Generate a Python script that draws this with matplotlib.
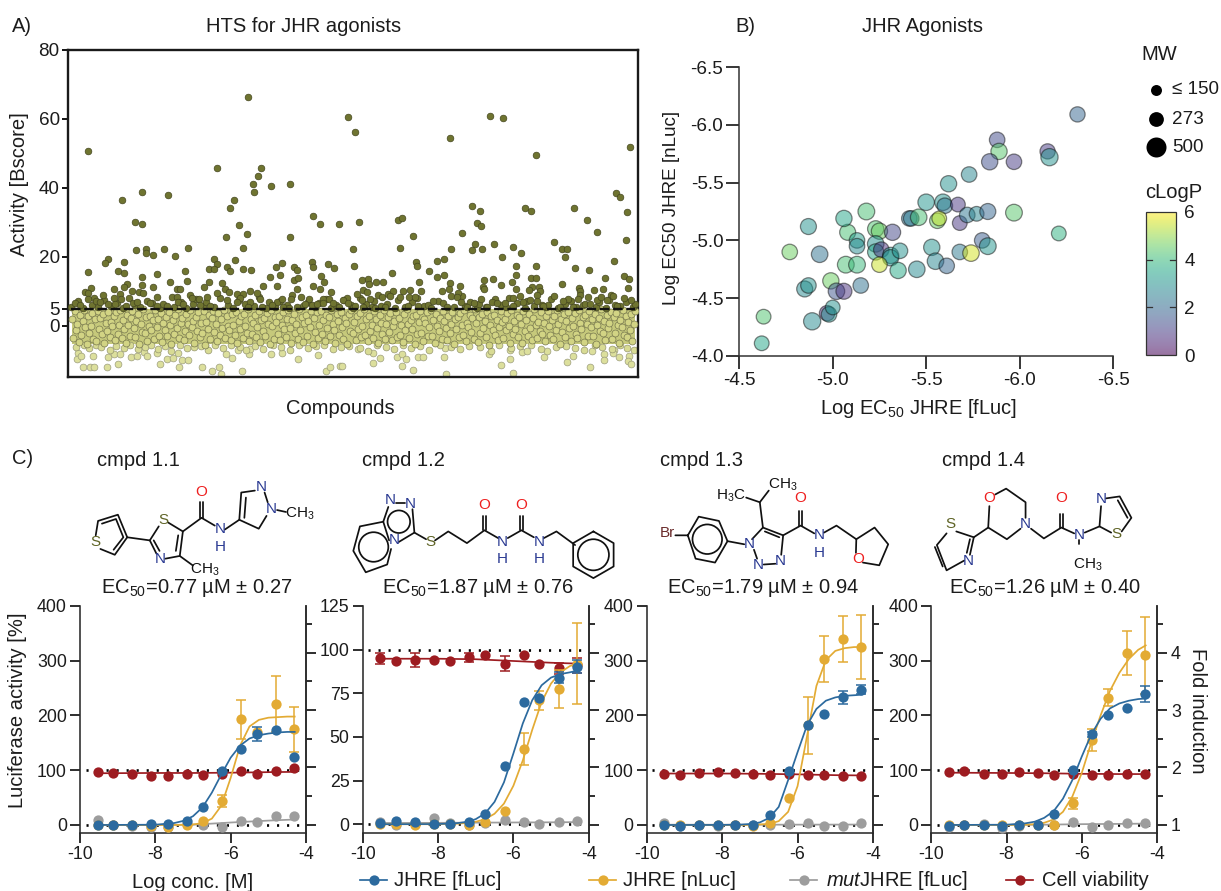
import numpy as np
import matplotlib
matplotlib.use("Agg")
import matplotlib.pyplot as plt
from matplotlib.cm import ScalarMappable
from matplotlib.colors import Normalize
from matplotlib.patches import Circle

plt.rcParams['font.family'] = ['Liberation Sans', 'DejaVu Sans']
plt.rcParams['mathtext.fontset'] = 'custom'
plt.rcParams['mathtext.rm'] = 'Liberation Sans'
plt.rcParams['mathtext.it'] = 'Liberation Sans:italic'
plt.rcParams['mathtext.default'] = 'regular'
plt.rcParams['axes.unicode_minus'] = False

# ---------- Panel A data (compound rank, Bscore) ----------
hit_x = [20,180,280,287,382,422,435,468,562,149,193,190,185,203,222,186,74,100,54,166,67,74,162,171,179,158,175,167,222,245,252,271,
 68,78,78,85,96,107,120,40,37,56,20,50,56,89,117,146,149,141,146,159,162,175,183,244,245,260,266,214,208,226,229,212,202,253,256,226,230,195,209,245,252,263,229,224,223,182,189,
 74,102,119,141,154,136,85,74,59,56,46,23,17,20,20,35,46,52,53,64,71,75,89,109,112,109,122,124,131,139,149,157,161,169,175,172,159,182,192,209,214,241,255,261,
 7,12,28,32,40,47,58,65,69,82,89,99,110,115,132,142,169,180,194,204,215,229,237,244,249,255,265,
 294,300,301,308,315,295,299,289,294,302,310,314,320,325,322,332,335,342,341,347,351,353,365,374,382,381,392,390,383,389,393,416,415,416,425,433,444,448,448,452,445,463,468,464,461,471,472,469,469,486,494,537,556,561,560,511,512,512,510,526,535,543,545,556,563,529,533,539,500,495,413,406,424,429,437,462,455,480,475,517,522,279,275,280,287,295,307,317,340,350,379,399,419,445,492,505,549]
hit_y = [50.7,66.4,60.6,56.2,54.5,60.9,60.3,49.6,51.9,45.8,45.8,43.5,41.2,40.6,41.2,38.8,38.8,38.0,36.5,36.5,30.2,29.7,34.3,29.2,26.6,25.9,22.7,19.1,25.7,31.9,29.6,29.6,
 22,22.3,21.2,20.6,22.3,20.3,22.7,19.5,18.2,18.6,15.7,16,15.4,15.2,16,19.5,18,16.5,16.5,17.2,16,16.5,16.2,18.6,17.1,18,16.9,18.3,17.1,17.1,16.2,14.9,14.2,14.5,12.8,13.3,13.9,11.6,11.6,11.6,10.6,9.8,10.8,9.1,7.8,10,9.6,
 14.2,12.6,13.1,12.8,12.4,11.3,11.4,11.9,12.2,11.4,10.8,11,9.9,9.6,7.9,9,8.2,9.2,7.9,10.1,9.9,9.5,8.5,10.6,10.6,8.5,9.1,8.2,7.9,8.5,9.5,10.6,9.8,9.3,9.3,8,7.5,7,7.7,7,7.7,7.9,7.7,7.7,
 6.6,6.1,7.3,6.8,6.4,6.4,5.8,6.6,6.8,6.6,5.8,5.8,6.8,6.4,6.1,5.8,7,5.6,5.6,6.1,5.5,5.5,6.4,6.1,6.4,6.7,6.7,
 13.3,13.7,12.2,12.6,12.6,10.4,9.7,9.2,7.5,7.9,9,8.3,9.2,10.2,8.7,8.5,10.2,10.4,8.5,8.4,12.8,10,7.2,10,12.4,10.8,11.5,9.5,8.8,8.5,7,13.3,11.2,10.6,13.6,12,12.7,14.7,10.6,8.8,8.1,14,14,11.4,10.4,11.2,10.1,9,7.3,8.7,12.3,13.9,14.5,13.6,11,11.1,10,9,7.8,10.3,10.7,9,8.8,8.1,7.6,7.6,8.5,7.4,7.9,7.3,7.7,6.6,7,6.6,6.6,7.6,7,6.1,5.7,6.4,6.4,8,7.6,6.6,5.8,5.5,5.2,5.5,5.8,5.8,5.6,5.6,5.5,5.8,5.5,5.6,5.8]

hit2_x = [404,412,457,463,506,519,529,558,486,494,499,497,546,507,521,409,413,394,407,404,414,426,445,453,434,448,468,383,376,369,361,376,369,348,349,345,332,330,334,291,285,286,324,548,552,559]
hit2_y = [34.8,33.3,34.2,33.3,34.3,30.7,27.2,24.9,24.4,22.3,22.3,20,18.8,16.8,16.3,29.9,29,27,23.8,22,22.3,23.7,22.9,21.2,20,17.4,17.5,22.4,19.5,18.8,16,14.8,14.2,18.6,17.5,26.1,22.7,30.8,31.4,30.2,22.3,17.4,15.4,38.6,37.4,33]

row_x = [3,10,15,24,26,30,36,43,49,55,61,67,72,79,84,92,95,104,106,113,118,125,128,135,138,146,152,160,165,171,177,186,191,198,201,207,212,219,221,233,235,240,247,251,258,263,268,271,276,283,285,292,298,304,306,313,319,327,330,337,344,349,356,360,363,370,375,386,394,397,402,409,411,418,427,433,438,441,449,457,459,466,474,478,483,490,497,503,508,515,520,528,531,538,541,547,552,558,565,567]
row_y = [5.6,7.1,5.3,6.2,8.2,5.5,7.4,5.9,6.6,5.2,8,6.1,5.4,7.2,6.7,5.3,6.4,8.3,5.6,7,5.2,6.3,7.7,5.8,6.9,5.4,8.1,6,5.3,7.5,6.5,5.7,8.4,5.2,6.8,5.5,7.3,6.1,5.3,8.5,5.9,7,5.4,6.6,7.8,5.2,6.2,5.6,7.4,6,5.3,8,6.5,5.5,7.1,5.8,6.3,5.2,7.6,5.4,6.9,8.2,5.7,6.1,5.3,7.2,6.6,5.5,8.6,5.9,7,5.2,6.4,5.6,7.7,6,5.4,8.1,6.7,5.3,7.3,5.8,6.2,5.5,7.9,5.2,6.5,7.1,5.6,6,8.3,5.4,6.8,5.3,7.5,6.1,5.7,7,5.5,6.4]

low_x = [10,9,13,15,22,26,39,50,25,40,46,52,63,69,76,79,89,92,99,105,110,114,120,111,134,144,151,153,174,158,164,181,170,182,203,214,230,250,258,262,272,274,305,312,329,334,338,334,345,350,355,376,378,377,421,433,442,445,476,499,505,522,536,536,546,551,561,560,563,524,545,442,454,459,479,305,290]
low_y = [-7.7,-9.6,-8.7,-12,-12,-12,-12,-11,-8.7,-8.9,-8.1,-8.1,-9.1,-8.7,-7.5,-8.7,-7.7,-11,-9.6,-9.3,-7.9,-9.9,-9.9,-12,-12,-13,-12,-13.9,-13,-8.1,-9.3,-8.1,-6.9,-6.7,-8.1,-7.9,-9.6,-8.4,-13,-12,-11.5,-11.5,-10.7,-9.2,-9.1,-8.2,-9.6,-11.5,-12.7,-8.9,-9.1,-8.9,-14,-6.5,-8,-11.3,-9.7,-13.5,-9.1,-10.5,-8.6,-11.9,-8.2,-9.8,-7,-8.9,-8.7,-10.3,-10.9,-7.4,-7.9,-7,-7.5,-7.2,-7.4,-7.7,-6.8]

fringe_x = [8,16,21,28,33,42,48,56,62,70,77,83,90,97,103,112,119,126,133,140,147,155,163,172,178,187,195,205,213,222,231,240,248,256,265,273,281,292,300,309,318,326,335,343,352,361,372,383,392,401,412,423,431,443,452,463,473,488,498,507,516,527,534,544,552,559,566]
fringe_y = [-6,-5.6,-6.5,-5.5,-6.2,-7,-5.7,-6.4,-5.5,-6.8,-6,-5.6,-6.6,-5.8,-7.2,-5.5,-6.3,-6,-5.7,-6.9,-5.6,-6.4,-5.5,-6.1,-7.1,-5.8,-6.6,-5.6,-6.2,-7,-5.5,-6.5,-5.9,-5.6,-6.8,-6.1,-5.7,-6.3,-7.2,-5.5,-6,-6.7,-5.6,-6.4,-5.8,-7,-5.5,-6.2,-6.6,-5.7,-6.1,-7.3,-5.6,-6.5,-5.9,-5.5,-6.8,-6.2,-5.7,-6.4,-7,-5.6,-6,-6.7,-5.5,-6.3,-6.9]

band_y = [2.1,-3.4,4.2,-1.2,0.6,-4.7,3.1,-2.6,1.4,4.6,-0.3,-5.2,2.8,-1.9,0.1,3.7,-3.9,1.9,-4.4,4.4,
 -0.8,2.4,-2.2,3.4,-5.0,0.9,-1.5,4.1,-3.1,1.1,-0.1,2.9,-4.1,3.9,-2.4,0.4,4.7,-3.6,1.7,-1.0,
 -4.9,3.3,0.2,-2.8,2.2,4.3,-0.6,-3.3,1.3,3.6,-5.3,0.7,-1.7,4.8,-2.1,2.6,-4.3,0.0,3.0,-1.3,
 1.6,-3.7,4.5,-0.4,2.0,-2.9,3.8,-4.6,1.0,-1.1,2.7,-3.0,4.0,0.3,-5.1,1.8,-2.3,3.2,-0.7,4.9,
 -3.5,0.8,2.3,-4.2,-1.6,3.5,0.5,-2.7,4.6,-0.2,1.5,-4.8,2.5,-1.4,3.9,-3.2,0.9,-2.0,4.2,-5.4,
 1.2,-0.9,3.1,-3.8,2.2,4.4,-1.8,0.6,-4.5,3.7,-2.5,1.9,-0.5,4.7,-3.4,2.8,0.1,-1.2,-4.0,3.4,
 0.4,-2.6,4.1,-5.0,1.4,-0.8,2.9,-3.6,3.6,0.0,-1.9,4.8,-4.4,2.1,-2.2,1.0,3.3,-3.1,-0.3,4.3,
 -4.7,1.7,-1.5,2.4,-2.8,3.8,0.7,-5.2,4.5,-0.1,-3.9,2.6,1.1,-2.4,3.0,-4.1,0.2,4.0,-1.0,-3.3,
 2.0,4.6,-0.6,-4.9,1.6,3.5,-2.1,0.5,-3.7,4.9,-1.3,2.7,-4.6,0.8,3.2,-2.9,1.3,-0.4,4.2,-5.1,
 2.3,-1.7,3.9,-3.5,0.3,4.4,-2.3,1.8,-4.3,3.1,-0.7,2.5,-3.0,4.7,0.6,-1.1,-4.8,3.6,1.5,-2.7,
 4.1,-0.2,-3.8,2.2,0.9,-5.3,3.4,-1.6,4.5,-2.0,1.2,-4.2,2.8,-0.9,3.7,-3.2,0.1,4.8,-2.5,1.9,
 -4.5,3.0,-1.4,0.4,-3.4,4.3,2.1,-0.5,-5.0,3.3,1.0,-2.2,4.6,-3.9,0.7,2.6,-1.8,3.8,-4.0,-0.1,
 1.4,4.0,-3.1,2.4,-2.6,0.2,-4.7,3.5,-1.2,4.9,0.5,-3.6,1.7,-0.8,2.9,-5.2,3.2,-2.4,1.1,4.2,
 -1.9,-4.4,2.0,0.8,3.9,-3.0,-0.3,4.7,-2.8,1.6,-4.9,3.4,0.0,-1.5,2.3,-3.7,4.4,1.3,-0.6,-4.1,
 3.0,-2.1,0.6,4.1,-5.1,1.9,-1.0,2.7,-3.3,3.7,0.3,-2.5,4.5,-4.3,1.0,-0.4,3.3,-1.7,2.2,-3.8,
 4.8,0.9,-4.6,2.5,-2.0,3.6,-0.7,1.5,-3.2,4.0,-5.4,0.4,2.8,-1.3,3.1,-2.7,1.8,-4.0,-0.2,4.3,
 1.1,-3.5,2.1,-1.1,3.8,0.1,-4.8,4.6,-2.3,1.4,-0.9,3.2,-3.1,2.6,0.7,-5.0,4.2,-1.6,1.7,-2.9,
 3.5,-0.5,-4.2,2.4,4.9,0.2,-3.4,1.2,-1.4,3.9,-2.2,0.8,-4.5,2.9,4.4,-0.1,-2.6,1.6,-3.9,3.0,
 -1.2,4.7,0.5,-5.2,2.0,-1.8,3.4,-3.3,1.3,4.1,-0.7,-4.4,2.3,0.0,3.7,-2.4,-3.6,4.5,1.0,-1.0,
 2.7,-4.7,3.1,0.6,-2.8,4.3,-0.3,1.9,-3.0,3.6,-5.1,0.3,2.2,-1.5,4.8,-2.1,1.5,-4.1,3.3,-0.6,
 0.9,4.0,-3.7,2.5,-1.9,3.8,0.4,-4.9,1.7,-0.2,4.6,-2.5,2.8,-3.2,1.1,-1.1,3.5,-4.3,0.7,4.2]

# ---------- Panel B data ----------
b_fluc = [-4.62,-4.63,-4.89,-4.85,-4.87,-4.97,-4.98,-5.0,-4.99,-5.02,-5.06,-5.15,-4.77,-4.93,-5.07,-5.13,-4.87,-5.08,-5.06,-5.13,-5.13,-5.23,-5.25,-5.32,-5.18,-5.23,-5.23,-5.26,-5.31,-5.31,-5.36,-5.25,-5.35,-5.45,-5.53,-5.55,-5.61,-5.68,-5.74,-5.80,-5.83,-5.88,-5.89,-5.84,-5.97,-5.73,-5.62,-5.50,-5.59,-5.60,-5.67,-5.68,-5.72,-5.77,-5.83,-5.97,-5.41,-5.42,-5.46,-5.56,-5.57,-6.31,-6.15,-6.16,-6.21]
b_nluc = [-4.11,-4.34,-4.30,-4.58,-4.61,-4.37,-4.36,-4.42,-4.65,-4.56,-4.56,-4.61,-4.90,-4.88,-4.79,-4.79,-5.12,-5.07,-5.19,-5.0,-4.95,-5.10,-5.08,-5.07,-5.25,-4.97,-4.90,-4.92,-4.87,-4.85,-4.91,-4.79,-4.74,-4.75,-4.94,-4.82,-4.78,-4.90,-4.89,-5.0,-4.95,-5.87,-5.77,-5.68,-5.68,-5.57,-5.49,-5.33,-5.33,-5.30,-5.31,-5.15,-5.22,-5.23,-5.25,-5.24,-5.19,-5.19,-5.20,-5.17,-5.19,-6.09,-5.77,-5.72,-5.06]
b_clogp = [3.5,4.3,2.8,2.8,3.0,0.7,3.0,3.0,4.6,1.5,0.8,2.2,4.6,2.2,4.2,4.0,3.0,4.2,3.5,3.3,2.8,4.3,4.6,1.2,4.2,3.0,3.5,0.8,3.2,3.0,3.0,5.5,3.6,2.8,3.0,2.7,1.9,2.4,5.6,1.7,3.1,1.3,4.4,1.4,1.0,2.7,3.0,3.1,3.0,2.3,0.9,0.9,2.3,2.7,1.9,4.4,2.2,2.4,4.2,4.6,5.4,1.9,1.0,3.0,3.8]
b_mw = [270,270,370,320,300,300,300,270,330,340,320,300,300,340,350,350,320,320,330,300,300,330,330,330,350,340,330,300,330,330,300,300,330,340,330,340,300,300,340,300,350,300,330,330,300,300,330,340,340,300,270,270,300,270,320,350,300,300,340,300,270,290,290,370,270]
mw_keys = [150, 273, 500]

# ---------- Panel C data ----------
log_conc = [-9.53,-9.12,-8.61,-8.12,-7.67,-7.17,-6.74,-6.22,-5.73,-5.31,-4.80,-4.31]
fit_x = [-9.5,-8,-7.5,-7.25,-7,-6.75,-6.5,-6.25,-6,-5.75,-5.5,-5.25,-5,-4.75,-4.5,-4.3]
flat_x = [-9.5,-8,-7,-6,-5,-4.3]

titles = ["EC$_{50}$=0.77 µM ± 0.27","EC$_{50}$=1.87 µM ± 0.76","EC$_{50}$=1.79 µM ± 0.94","EC$_{50}$=1.26 µM ± 0.40"]
names = ["cmpd 1.1","cmpd 1.2","cmpd 1.3","cmpd 1.4"]

fluc1 = [0,0,-0.6,1.2,2.4,7.9,32.9,98.6,139,165.6,173.5,124.8]
nluc1 = [0,0,0,-2,-3.6,0.6,7.3,44.4,193,170,221,175]
mut1 = [9,-0.6,-2,-3,-3.6,1.2,0,-3,7.3,5.5,17,15.8]
via1 = [97.4,95,93,90,89,93,91,92.5,98,92.5,98.6,104.7]
fluc1_e = [0,0,0,0,0,0,0,0,0,13,0,0]
nluc1_e = [0,0,0,0,0,0,0,11,36,0,52,41]
via1_e = [0]*12
fit_f1 = [0,0.5,3.5,7.6,16,32,59,92,123,145,158,164,167,169,170,170]
fit_n1 = [0,0,0,0.3,1,3.4,11.6,35,86,145,180,192,196,197,198,198]
fit_m1 = [0,0,0.5,4.5,8,10]
fit_v1 = [94.5,95,95,95.5,96.5,97]

fluc2 = [0.6,1.7,1,0.4,0.4,1.5,5.7,33.4,69.8,72.1,84,90.3]
nluc2 = [0.4,0.4,-0.6,0.4,0,-0.4,1,7.8,43.1,71,77.5,92]
mut2 = [1,-0.6,0.6,3.4,0.6,-0.2,0.6,2.5,1.1,0,1.1,2.1]
via2 = [95,93.7,94.1,94.3,93.7,95.6,97.1,91.8,96.8,91.8,89.3,91]
fluc2_e = [0,0,0,0,0,0,0,0,0,0,3,3.8]
nluc2_e = [0,0,0,0,0,0,0,0,9,5.5,11,23]
via2_e = [3.3,0,4,0,0,2.5,0,4.3,0,0,3,4.5]
fit_f2 = [0,0.1,0.6,1.3,2.9,6.2,12.8,24,40.5,57.7,71,79.6,84,86,87,88]
fit_n2 = [0,0,0.3,0.7,1.4,2.9,6,11.8,22,36.5,54,70,80.6,87,90.6,92]
fit_m2 = [0.7,0.8,0.9,1,1.1,1.2]
fit_v2 = [94.8,94.8,94.5,93.5,92.5,92]

fluc3 = [0,-1,-0.6,-0.6,-0.6,0.6,19,97.7,182,203,233,247]
nluc3 = [0,0,0,0,0,-1,3.7,50,182,303,340,325]
mut3 = [3,-1,-0.6,-1,0,0,-0.6,1.8,3.7,-1,-1,3]
via3 = [94,91,94.7,96.5,94.7,92.8,91.6,93.4,91.6,90.4,89.8,89.8]
fluc3_e = [0,0,0,0,0,0,0,0,0,0,12.5,8]
nluc3_e = [0,0,0,0,0,0,0,0,52,42,42,58]
via3_e = [0]*12
fit_f3 = [0,0.1,0.7,1.8,4.7,13,33,82,133,182,212,227,233,236,237,238]
fit_n3 = [0,0,0,0.3,1,2,7,24,71,162,254,301,318,323,325,325]
fit_m3 = [0.5,0.5,0.5,0.6,0.7,0.8]
fit_v3 = [94,94,93.5,92.5,91,90.5]

fluc4 = [-1,0,-0.6,-1.8,0,0,20,100.8,165.5,200,213,239]
nluc4 = [0,0,0,0,0,0,0,40,154.5,232.7,314.5,310]
mut4 = [-3,0,2,-6,-1,0,0,5,-3,0.6,3,3]
via4 = [96.5,98.5,93,93,96,94.7,91.6,93,91.6,92,93,93.6]
fluc4_e = [0,0,0,0,0,0,0,0,5,0,0,14]
nluc4_e = [0,0,0,0,0,0,0,10,20,16,40,70]
via4_e = [0]*12
fit_f4 = [0,0.5,3,6,13,25,48,82,125,165,194,213,222,227,230,231]
fit_n4 = [0,0,0.5,1.5,4,10,24,52,95,150,200,245,278,303,320,328]
fit_m4 = [0,0.2,0.5,1.5,2,2.5]
fit_v4 = [95.5,95,94.5,93.5,93,93]

W, H = 1221, 891
fig = plt.figure(figsize=(W/100, H/100), dpi=100, facecolor='white')
def px_axes(l, t, r, b, **k):
    return fig.add_axes([l/W, 1-b/H, (r-l)/W, (b-t)/H], **k)

INK = '#1c1c1c'
FS = 14.5
TICK = 13.6

# ---------- A ----------
a = px_axes(68, 50, 638, 377)
a.set_xlim(0, 570); a.set_ylim(-14.8, 80)
for s in a.spines.values():
    s.set_linewidth(1.7); s.set_color('#1a1a1a')
a.set_xticks([])
a.set_yticks([0, 5, 20, 40, 60, 80])
a.tick_params(axis='y', length=4, width=1.3, labelsize=TICK, pad=2, labelcolor=INK)
band_x = np.linspace(4, 567, len(band_y))
a.axhspan(-5.2, 4.8, xmin=4/570, xmax=567/570, color='#c6c97b', lw=0, zorder=1)
a.scatter(low_x, low_y, s=24, c='#dcdf9c', edgecolors='#9c9d7c', linewidths=0.5, zorder=2)
a.scatter(fringe_x, fringe_y, s=24, c='#d8db94', edgecolors='#96976f', linewidths=0.5, zorder=2)
a.scatter(band_x, band_y, s=25, c='#d2d484', edgecolors='#77784e', linewidths=0.5, zorder=3)
a.scatter(row_x, row_y, s=23, c='#6f7430', edgecolors='#44461f', linewidths=0.5, zorder=4)
a.scatter(hit_x, hit_y, s=23, c='#6f7430', edgecolors='#44461f', linewidths=0.5, zorder=4)
a.scatter(hit2_x, hit2_y, s=23, c='#6f7430', edgecolors='#44461f', linewidths=0.5, zorder=4)
a.plot([3, 567], [5, 5], color='#111111', lw=1.7, ls=(0, (4, 1.6)), zorder=5)

# ---------- B ----------
b = px_axes(739.3, 67, 1113, 356)
b.set_xlim(-4.5, -6.5); b.set_ylim(-4.0, -6.5)
for k in ('top', 'right'):
    b.spines[k].set_visible(False)
for k in ('left', 'bottom'):
    b.spines[k].set_linewidth(1.1); b.spines[k].set_color('#333333')
b.set_xticks([-4.5, -5, -5.5, -6, -6.5]); b.set_yticks([-4, -4.5, -5, -5.5, -6, -6.5])
b.set_xticklabels(['-4.5', '-5.0', '-5.5', '-6.0', '-6.5'])
b.set_yticklabels(['-4.0', '-4.5', '-5.0', '-5.5', '-6.0', '-6.5'])
b.tick_params(length=9.5, width=1.1, labelsize=TICK, pad=2, labelcolor=INK)
norm = Normalize(0, 6)
b.scatter(b_fluc, b_nluc, s=np.array(b_mw)*0.415, c=b_clogp, cmap='viridis', norm=norm,
          alpha=0.5, edgecolors='#111111', linewidths=0.9, zorder=3, clip_on=False)
cax = px_axes(1146, 212, 1176, 355)
cb = fig.colorbar(ScalarMappable(norm=norm, cmap='viridis'), cax=cax, alpha=0.55)
cb.set_ticks([0, 2, 4, 6])
cb.outline.set_linewidth(0.9); cb.outline.set_edgecolor('#333333')
cax.tick_params(axis='y', length=0, labelsize=TICK, pad=6, labelcolor=INK)
for level in (2, 4):
    cax.plot([0, 0.2], [level, level], color='#333333', lw=0.9, zorder=6)
    cax.plot([0.8, 1], [level, level], color='#333333', lw=0.9, zorder=6)

# ---------- C ----------
C_POS = [(80, 306), (362.7, 588.7), (646.7, 873), (931.3, 1157)]
BLUE, YEL, GREY, RED = '#2c6a9e', '#e3ab34', '#9d9d9d', '#9d1c21'
panels = [
 (fluc1, nluc1, mut1, via1, fluc1_e, nluc1_e, via1_e, fit_f1, fit_n1, fit_m1, fit_v1),
 (fluc2, nluc2, mut2, via2, fluc2_e, nluc2_e, via2_e, fit_f2, fit_n2, fit_m2, fit_v2),
 (fluc3, nluc3, mut3, via3, fluc3_e, nluc3_e, via3_e, fit_f3, fit_n3, fit_m3, fit_v3),
 (fluc4, nluc4, mut4, via4, fluc4_e, nluc4_e, via4_e, fit_f4, fit_n4, fit_m4, fit_v4),
]
def series(ax, y, e, fx, fy, col, z):
    ax.plot(fx, fy, color=col, lw=1.25, zorder=z)
    xa, ya, ea = np.array(log_conc), np.array(y, float), np.array(e, float)
    m = ea > 0
    if m.any():
        ax.errorbar(xa[m], ya[m], yerr=ea[m], fmt='none', ecolor=col, elinewidth=1.1,
                    capsize=3.6, capthick=1.1, zorder=z)
    ax.plot(xa, ya, 'o', color=col, ms=7.4, mew=0, zorder=z+0.5, clip_on=False)

for i, ((l, r), p) in enumerate(zip(C_POS, panels)):
    ax = px_axes(l, 606, r, 833.3)
    f, n, m, v, fe, ne, ve, ff, fn, fm, fv = p
    top = 125 if i == 1 else 400
    low = -5.2 if i == 1 else -15.2
    ax.set_xlim(-10, -4); ax.set_ylim(low, top)
    ax.spines['top'].set_visible(False)
    for k in ('left', 'bottom', 'right'):
        ax.spines[k].set_linewidth(1.15); ax.spines[k].set_color('#2a2a2a')
    ax.set_xticks([-10, -8, -6, -4])
    ax.set_yticks([0, 25, 50, 75, 100, 125] if i == 1 else [0, 100, 200, 300, 400])
    ax.tick_params(length=7, width=1.15, labelsize=12.8, pad=2.5, labelcolor=INK)
    ax.patch.set_alpha(0)
    for ref in (0, 100):
        ax.plot([-9.85, -4.02], [ref, ref], color='black', lw=1.9, ls=(0, (0.8, 3.0)), zorder=2)
    series(ax, v, ve, flat_x, fv, RED, 3)
    series(ax, m, [0]*12, flat_x, fm, GREY, 4)
    series(ax, n, ne, fit_x, fn, YEL, 5)
    series(ax, f, fe, fit_x, ff, BLUE, 6)
    t = ax.twinx()
    t.set_ylim(0.855, 4.81)
    for k in ('top', 'left', 'bottom'):
        t.spines[k].set_visible(False)
    t.spines['right'].set_linewidth(1.15); t.spines['right'].set_color('#2a2a2a')
    t.set_yticks([1, 2, 3, 4])
    t.set_yticks([1.5, 2.5, 3.5, 4.5], minor=True)
    t.tick_params(axis='y', which='major', length=7, width=1.15, labelsize=12.8, pad=3,
                  labelright=(i == 3), labelcolor=INK)
    t.tick_params(axis='y', which='minor', length=4, width=1.15)
    t.set_zorder(ax.get_zorder() - 1)

# ---------- overlay: labels, legends, structures ----------
ov = fig.add_axes([0, 0, 1, 1], zorder=20)
ov.set_xlim(0, W); ov.set_ylim(H, 0); ov.axis('off'); ov.patch.set_alpha(0)
def T(x, y, s, ha='left', va='center', fs=FS, c=INK, **k):
    ov.text(x, y, s, ha=ha, va=va, fontsize=fs, color=c, **k)

T(12, 26, 'A)'); T(735, 26, 'B)'); T(12, 459, 'C)')
T(304, 26, 'HTS for JHR agonists', ha='center')
T(923, 26, 'JHR Agonists', ha='center')
T(340, 408, 'Compounds', ha='center')
T(20, 184, 'Activity [Bscore]', ha='center', rotation=90)
T(919, 408, 'Log EC$_{50}$ JHRE [fLuc]', ha='center')
T(671, 208, 'Log EC50 JHRE [nLuc]', ha='center', rotation=90, fs=13.6)
T(1141, 55, 'MW')
T(1145, 192, 'cLogP')
for yy, lab, mw in zip((90, 119, 147), ('≤ 150', '273', '500'), mw_keys):
    ov.scatter([1155.5], [yy], s=mw*0.415, c='black', lw=0)
    T(1172, yy, lab, fs=13.6)
for cx, ti in zip((197, 478, 763, 1045), titles):
    T(cx, 588, ti, ha='center')
for x0, nm in zip((97, 362, 660, 942), names):
    T(x0, 461, nm)
T(18, 710, 'Luciferase activity [%]', ha='center', rotation=90)
T(193, 882, 'Log conc. [M]', ha='center')
T(1198, 711, 'Fold induction', ha='center', rotation=270)
for x0, x1, xt, col, lab in [(360, 387, 394, BLUE, 'JHRE [fLuc]'), (589, 616, 623, YEL, 'JHRE [nLuc]'),
                             (790, 817, 826, GREY, r'$\mathit{mut}$JHRE [fLuc]'), (1006, 1033, 1042, RED, 'Cell viability')]:
    ov.plot([x0, x1], [880, 880], color=col, lw=1.25)
    ov.plot([(x0+x1)/2], [880], 'o', color=col, ms=7.4, mew=0)
    T(xt, 881, lab)

K = 2.57
NC, OC, SC, BC = '#2b3a92', '#ee2020', '#5f6426', '#6b2c2c'
def chem(ox, oy, lines, rings, labels):
    for pl in lines:
        xs = [ox + q[0]/K for q in pl]; ys = [oy + q[1]/K for q in pl]
        ov.plot(xs, ys, color='#111111', lw=1.25, solid_capstyle='round')
    for cx, cy, r in rings:
        ov.add_patch(Circle((ox+cx/K, oy+cy/K), r/K, fill=False, ec='#111111', lw=1.25))
    for x, y, s, c in labels:
        ov.text(ox+x/K, oy+y/K, s, color=c, fontsize=11, ha='center', va='center')

chem(0, 440,
 [[(258,280),(295,295),(327,250),(303,192),(252,208),(246,245)],
  [(327,250),(385,258),(408,222)],[(432,212),(470,235),(462,298),(425,305)],[(402,292),(385,258)],
  [(458,245),(452,285)],[(395,258),(410,285)],[(462,298),(495,322)],
  [(470,235),(518,200),(552,220)],[(514,200),(514,160)],[(522,200),(522,160)],
  [(578,230),(615,205),(620,135),(655,130)],[(680,135),(688,160)],[(685,195),(665,228),(615,205)],
  [(628,200),(632,148)],[(712,180),(735,185)],[(262,215),(298,203),(317,250),(292,282)]],
 [],
 [(245,262,'S',SC),(420,205,'S',SC),(412,305,'N',NC),(527,334,'CH$_3$','#111111'),(518,133,'O',OC),
  (565,230,'N',NC),(565,275,'H',NC),(672,120,'N',NC),(697,177,'N',NC),(770,190,'CH$_3$','#111111')])
chem(0, 440,
 [[(1000,258),(985,210),(925,222),(908,285),(940,340),(995,320),(1005,280)],
  [(985,210),(998,172)],[(1060,178),(1065,238),(1025,262)],[(1018,162),(1040,162)],
  [(1065,238),(1095,255)],[(1118,258),(1152,235),(1200,265),(1245,232),(1280,252)],
  [(1241,232),(1241,195)],[(1249,232),(1249,195)],[(1305,252),(1340,232),(1372,250)],
  [(1336,232),(1336,195)],[(1344,232),(1344,195)],[(1398,252),(1430,235),(1478,270)],
  [(1525,235),(1577,265),(1577,325),(1525,355),(1473,325),(1473,265),(1525,235)]],
 [(960,275,38),(1025,210,29),(1525,295,40)],
 [(1012,258,'N',NC),(1003,155,'N',NC),(1055,165,'N',NC),(1105,262,'S',SC),(1245,168,'O',OC),(1292,262,'N',NC),
  (1292,307,'H',NC),(1340,168,'O',OC),(1385,262,'N',NC),(1385,307,'H',NC)])
chem(610, 440,
 [[(168,245),(200,245),(228,197),(280,208),(302,260),(270,315),(220,305),(200,245)],[(302,260),(345,268)],
  [(365,255),(393,225),(445,245),(440,295)],[(398,235),(435,250)],[(370,282),(378,305)],[(395,320),(425,318)],
  [(393,225),(385,160),(408,130)],[(385,160),(350,148)],[(445,245),(490,220),(525,240)],
  [(486,220),(486,182)],[(494,220),(494,182)],[(550,238),(582,220),(633,255),(680,225),(715,268),(692,322),(650,315)],
  [(633,255),(632,290)]],
 [(250,255,38)],
 [(148,240,'Br',BC),(358,268,'N',NC),(380,320,'N',NC),(438,312,'N',NC),(310,143,'H$_3$C','#111111'),
  (445,115,'CH$_3$','#111111'),(490,150,'O',OC),(537,243,'N',NC),(537,290,'H',NC),(637,305,'O',OC)])
chem(610, 440,
 [[(890,235),(935,250),(925,295)],[(910,310),(865,335),(840,270),(865,240)],[(855,325),(835,275)],[(925,255),(917,290)],
  [(935,250),(972,225),(975,170)],[(990,140),(1018,125),(1068,160),(1068,200)],[(1055,228),(1020,255),(972,225)],
  [(1082,228),(1115,253),(1160,225),(1193,240)],[(1156,225),(1156,190)],[(1164,225),(1164,190)],[(1205,258),(1205,268)],
  [(1220,238),(1258,222),(1262,170)],[(1275,150),(1310,145),(1340,200),(1315,235)],[(1288,238),(1258,222)],[(1305,155),(1330,200)]],
 [],
 [(875,217,'S',SC),(920,310,'N',NC),(975,150,'O',OC),(1068,215,'N',NC),(1160,150,'O',OC),(1205,243,'N',NC),
  (1228,322,'CH$_3$','#111111'),(1262,152,'N',NC),(1302,242,'S',SC)])

fig.savefig('out.png', dpi=100)
